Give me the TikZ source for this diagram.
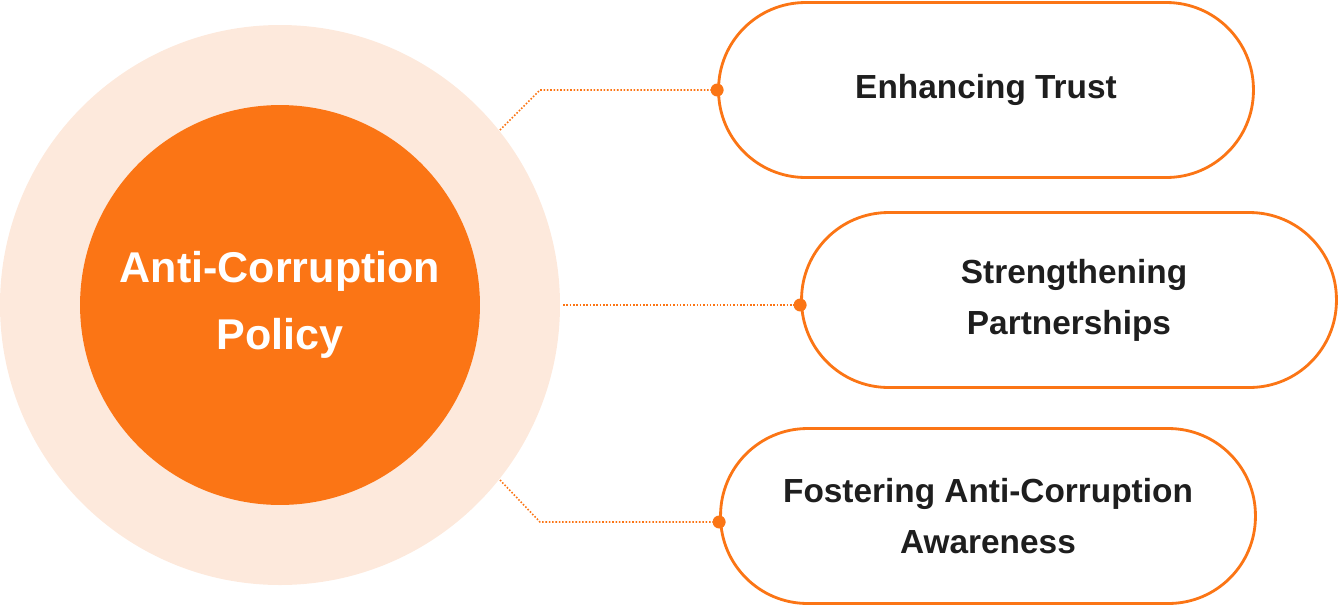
\documentclass[tikz,border=0pt]{standalone}
\usepackage{fontspec}
\setmainfont{Liberation Sans}
\usetikzlibrary{positioning}
\definecolor{brand}{HTML}{FB7515}
\definecolor{halo}{HTML}{FDE9DC}
\definecolor{ink}{HTML}{1E1E1E}
\tikzset{
  pill/.style={draw=brand, line width=1.6pt, fill=white, rounded corners=1.74cm,
    minimum width=10.7cm, minimum height=3.5cm, align=center, text=ink,
    font=\fontsize{19}{29}\selectfont\bfseries},
  link/.style={brand, densely dotted, line width=0.9pt},
  pin/.style={circle, fill=brand, inner sep=0pt, minimum size=0.26cm}
}
\begin{document}
\begin{tikzpicture}[x=0.02cm, y=-0.02cm]
  \useasboundingbox (0,0) rectangle (1340,606);
  % Policy core
  \fill[halo] (280,305) circle (280*0.02cm);
  \node[circle, fill=brand, minimum size=8cm, text=white, align=center,
        font=\fontsize{24.5}{38}\selectfont\bfseries] (core) at (280,305)
        {Anti-Corruption\\Policy};

  % Outcomes
  \node[pill] (trust) at (986,90) {Enhancing Trust};
  \node[pill] (partner) at (1069,300) {\hspace{0.2cm}Strengthening\\Partnerships};
  \node[pill] (aware) at (988,516) {Fostering Anti-Corruption\\Awareness};

  % Links
  \coordinate (t0) at (500,130);
  \coordinate (p0) at (563,305);
  \coordinate (a0) at (500,480);
  \draw[link] (t0) -- (540,90) -- (trust.west);
  \draw[link] (p0) -- (partner.west |- p0);
  \draw[link] (a0) -- (540,522) -- (aware.west |- 0,522);
  \node[pin] at (trust.west) {};
  \node[pin] at (partner.west |- p0) {};
  \node[pin] at (aware.west |- 0,522) {};
\end{tikzpicture}
\end{document}
